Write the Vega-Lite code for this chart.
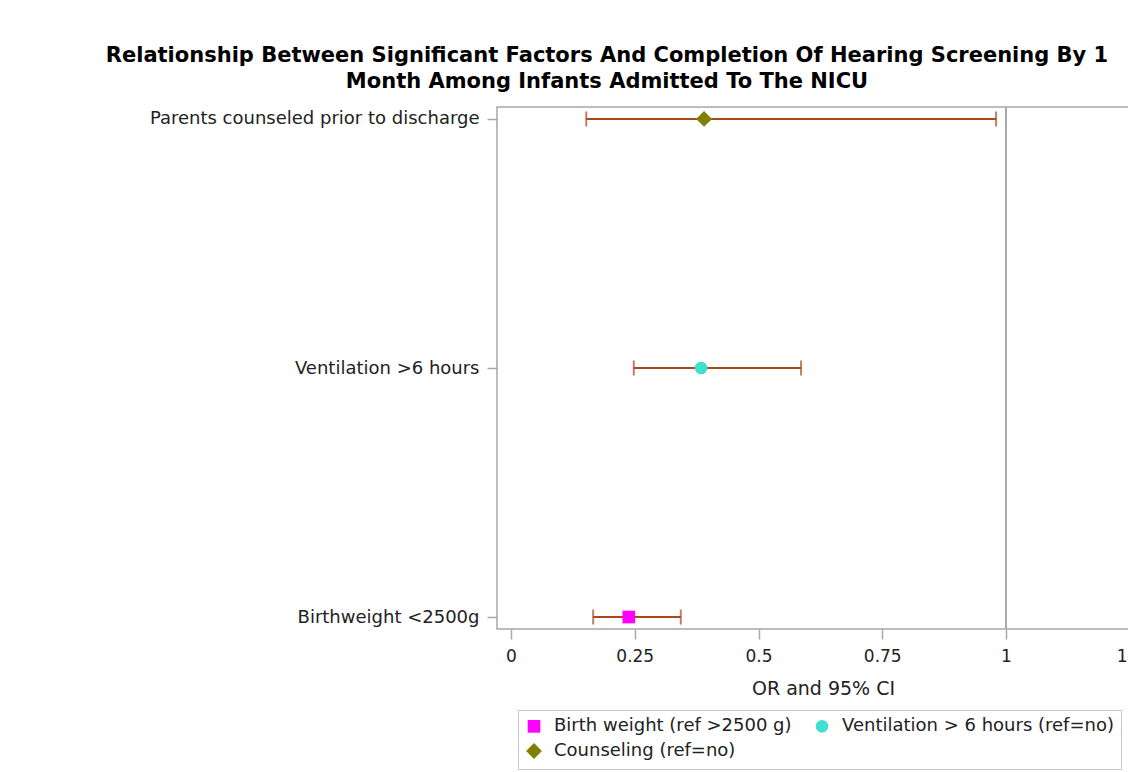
{
  "$schema": "https://vega.github.io/schema/vega-lite/v6.json",
  "width": 634,
  "height": 522,
  "autosize": {"type": "none"},
  "padding": {"left": 497, "top": 107, "right": -3, "bottom": 143},
  "background": "white",
  "title": {
    "text": ["Relationship Between Significant Factors And Completion Of Hearing Screening By 1", "Month Among Infants Admitted To The NICU"],
    "anchor": "middle",
    "dx": -207,
    "font": "DejaVu Sans",
    "fontSize": 21,
    "fontWeight": "bold",
    "color": "#000000",
    "offset": 14,
    "lineHeight": 26
  },
  "data": {
    "values": [
      {"factor": "Parents counseled prior to discharge", "group": "Counseling (ref=no)", "or": 0.39, "lo": 0.152, "hi": 0.98},
      {"factor": "Ventilation >6 hours", "group": "Ventilation > 6 hours (ref=no)", "or": 0.384, "lo": 0.248, "hi": 0.586},
      {"factor": "Birthweight <2500g", "group": "Birth weight (ref >2500 g)", "or": 0.238, "lo": 0.166, "hi": 0.343}
    ]
  },
  "layer": [
    {
      "mark": {"type": "rule", "color": "#A8A8A8", "strokeWidth": 1.5},
      "encoding": {
        "x": {"datum": 1, "type": "quantitative"}
      }
    },
    {
      "mark": {"type": "rule", "color": "#A9471F", "strokeWidth": 2},
      "encoding": {
        "y": {"field": "factor", "type": "nominal", "sort": ["Parents counseled prior to discharge", "Ventilation >6 hours", "Birthweight <2500g"], "scale": {"type": "point", "padding": 0.048}, "axis": {"title": null, "labelFontSize": 18}},
        "x": {"field": "lo", "type": "quantitative"},
        "x2": {"field": "hi"}
      }
    },
    {
      "mark": {"type": "tick", "color": "#A9471F", "thickness": 2, "size": 15},
      "encoding": {
        "y": {"field": "factor", "type": "nominal", "sort": ["Parents counseled prior to discharge", "Ventilation >6 hours", "Birthweight <2500g"]},
        "x": {"field": "lo", "type": "quantitative"}
      }
    },
    {
      "mark": {"type": "tick", "color": "#A9471F", "thickness": 2, "size": 15},
      "encoding": {
        "y": {"field": "factor", "type": "nominal", "sort": ["Parents counseled prior to discharge", "Ventilation >6 hours", "Birthweight <2500g"]},
        "x": {"field": "hi", "type": "quantitative"}
      }
    },
    {
      "mark": {"type": "point", "filled": true, "opacity": 1},
      "encoding": {
        "y": {"field": "factor", "type": "nominal", "sort": ["Parents counseled prior to discharge", "Ventilation >6 hours", "Birthweight <2500g"]},
        "x": {
          "field": "or",
          "type": "quantitative",
          "scale": {"domain": [-0.02828, 1.2525], "nice": false, "zero": false},
          "axis": {"values": [0, 0.25, 0.5, 0.75, 1, 1.25], "format": "~g", "title": "OR and 95% CI", "titleX": 326, "titlePadding": 15, "titleFontSize": 19, "labelFlush": false, "labelPadding": 9}
        },
        "color": {
          "field": "group",
          "type": "nominal",
          "scale": {"domain": ["Birth weight (ref >2500 g)", "Ventilation > 6 hours (ref=no)", "Counseling (ref=no)"], "range": ["#FF00FF", "#40E0D0", "#808000"]},
          "legend": {
            "orient": "none",
            "legendX": 21,
            "legendY": 603,
            "direction": "horizontal",
            "columns": 2,
            "title": null,
            "strokeColor": "#C8C8C8",
            "fillColor": "#FFFFFF",
            "padding": 7,
            "labelFont": "DejaVu Sans",
            "labelFontSize": 18,
            "labelColor": "#222222",
            "labelLimit": 500,
            "columnPadding": 20,
            "rowPadding": 4,
            "labelOffset": 11,
            "symbolOpacity": 1
          }
        },
        "shape": {
          "field": "group",
          "type": "nominal",
          "scale": {"domain": ["Birth weight (ref >2500 g)", "Ventilation > 6 hours (ref=no)", "Counseling (ref=no)"], "range": ["square", "circle", "diamond"]}
        },
        "size": {
          "field": "group",
          "type": "nominal",
          "scale": {"type": "ordinal", "domain": ["Birth weight (ref >2500 g)", "Ventilation > 6 hours (ref=no)", "Counseling (ref=no)"], "range": [160, 160, 250]}
        }
      }
    }
  ],
  "config": {
    "view": {"stroke": "#A8A8A8", "strokeWidth": 1.5},
    "axis": {
      "domain": false,
      "grid": false,
      "tickColor": "#A8A8A8",
      "tickSize": 10,
      "tickWidth": 1.5,
      "labelPadding": 8,
      "labelLimit": 500,
      "labelFont": "DejaVu Sans",
      "labelFontSize": 17,
      "labelColor": "#222222",
      "titleFont": "DejaVu Sans",
      "titleFontSize": 18,
      "titleFontWeight": "normal",
      "titleColor": "#222222"
    }
  }
}
